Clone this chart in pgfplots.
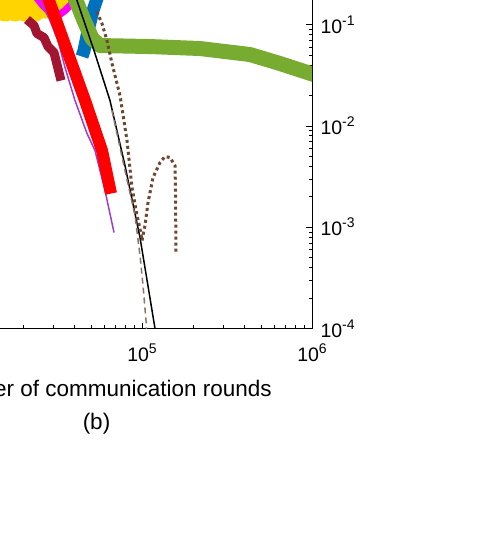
\documentclass[border=0pt]{standalone}
\usepackage{pgfplots}
\pgfplotsset{compat=1.18}
\usepackage{fontspec}
\setmainfont{Liberation Sans}

\definecolor{myyellow}{RGB}{255,212,0}
\definecolor{mymagenta}{RGB}{255,0,255}
\definecolor{mymaroon}{RGB}{162,20,47}
\definecolor{myviolet}{RGB}{160,60,210}
\definecolor{myred}{RGB}{255,0,0}
\definecolor{myblue}{RGB}{0,114,189}
\definecolor{mygreen}{RGB}{119,172,48}
\definecolor{mybrown}{RGB}{110,70,50}
\definecolor{mydash}{RGB}{140,115,105}

% 10^k written as text, MATLAB style
\newcommand{\tp}[1]{10\raisebox{8pt}{\fontsize{14}{14}\selectfont #1}}

\begin{document}
\begin{tikzpicture}
  % only part of the original figure is shown
  \useasboundingbox (0pt,0pt) rectangle (488pt,-550pt);
  \clip (0pt,0pt) rectangle (488pt,-550pt);

  \begin{axis}[
      at={(312pt,-328.5pt)}, anchor=south east,
      scale only axis,
      width=340pt, height=405.3pt,
      xmode=log, ymode=log,
      xmin=1e4, xmax=1e6,
      ymin=1e-4, ymax=1,
      axis line style={line width=0.8pt},
      tick align=inside,
      major tick length=6pt,
      minor tick length=3.5pt,
      every tick/.style={black, line width=0.5pt},
      xtick={1e4,1e5,1e6},
      xticklabels={\tp{4},\tp{5},\tp{6}},
      ytick={1e-4,1e-3,1e-2,1e-1,1},
      yticklabels={\tp{-4},\tp{-3},\tp{-2},\tp{-1},\tp{0}},
      yticklabel pos=right,
      ticklabel style={font=\fontsize{19.5}{22}\selectfont},
      xticklabel style={yshift=-12pt},
      yticklabel style={xshift=5pt},
      line join=round,
    ]

    % yellow
    \addplot[myyellow, line width=20pt] coordinates {
      (13650,0.1505) (15640,0.1343) (16730,0.1505) (17900,0.1343)
      (19160,0.1505) (20500,0.1343) (21940,0.1505) (23480,0.1343)
      (25120,0.1540) (26880,0.1438) (29550,0.1648) (32050,0.1725)
      (33840,0.2069)
    };
    % magenta
    \addplot[mymagenta, line width=7pt] coordinates {
      (23480,0.1932) (25800,0.1575) (28760,0.1313) (31620,0.1199)
      (35250,0.1374) (38760,0.1611) (42040,0.1932)
    };
    % dark red
    \addplot[mymaroon, line width=9pt] coordinates {
      (21060,0.1120) (23160,0.09775) (24120,0.08149) (26510,0.07440)
      (28000,0.06065) (30370,0.05291) (31620,0.04029) (33380,0.02802)
    };
    % thin violet
    \addplot[myviolet, line width=1.5pt] coordinates {
      (25120,0.1725) (28760,0.1095) (32050,0.0695) (35250,0.03762)
      (40360,0.01778) (47490,0.00840) (52900,0.00571) (60580,0.00230)
      (68450,0.000886)
    };
    % blue
    \addplot[myblue, line width=13pt] coordinates {
      (55110,0.1932) (51500,0.1374) (48140,0.08725) (45590,0.05537)
      (44370,0.04832)
    };
    % green
    \addplot[mygreen, line width=15pt] coordinates {
      (38760,0.2166) (40910,0.1725) (45590,0.1095) (50810,0.07273)
      (56620,0.06205) (111450,0.06065) (219400,0.05796) (431800,0.05058)
      (648300,0.04122) (1114000,0.03068)
    };
    % red
    \addplot[myred, line width=12pt] coordinates {
      (27240,0.2166) (28380,0.1725) (36230,0.05537) (46210,0.01778)
      (58180,0.00571) (65720,0.002148)
    };
    % black
    \addplot[black, line width=1.5pt] coordinates {
      (38760,0.2717) (41470,0.1725) (52200,0.05537) (64830,0.01778)
      (79430,0.00406) (97330,0.00079) (119250,0.0001) (124200,6.8e-5)
    };
    % dashed
    \addplot[mydash, line width=1.5pt, dash pattern=on 6pt off 4pt] coordinates {
      (66610,0.01417) (79430,0.003624) (90960,0.001303) (97330,0.000525)
      (101360,0.000266) (105560,0.00012) (107000,7.6e-5)
    };
    % dotted brown
    \addplot[mybrown, line width=3pt, dash pattern=on 3pt off 3pt] coordinates {
      (54360,0.1340) (55110,0.1255) (58180,0.1023) (62240,0.0695)
      (66610,0.04122) (74250,0.01992) (81620,0.00716) (87330,0.00246)
      (93460,0.001303) (97330,0.00097) (100000,0.000738) (104140,0.001038)
      (108470,0.00175) (116070,0.00309) (127600,0.00435) (136560,0.00498)
      (146100,0.00487) (156350,0.00406) (157400,0.0023) (158490,0.000562)
    };
  \end{axis}

  \node[anchor=base east, inner sep=0pt, font=\fontsize{22.5}{26}\selectfont]
    at (272pt,-396.5pt) {Number of communication rounds};
  \node[anchor=base, inner sep=0pt, font=\fontsize{22.5}{26}\selectfont]
    at (96.5pt,-429pt) {(b)};
\end{tikzpicture}
\end{document}
